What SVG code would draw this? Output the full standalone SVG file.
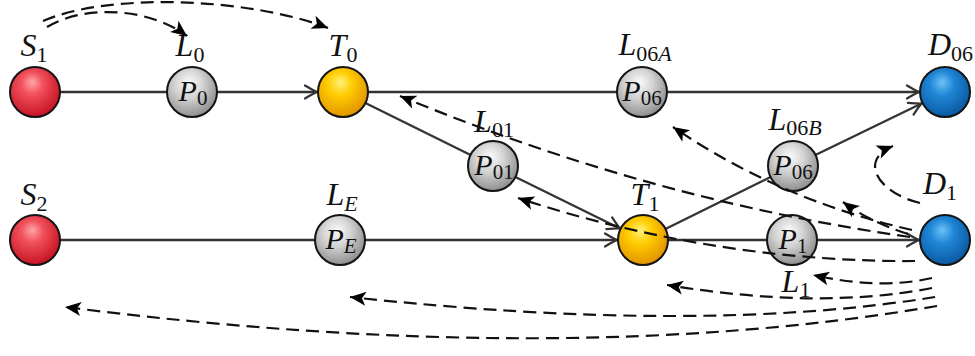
<svg xmlns="http://www.w3.org/2000/svg" width="975" height="356" viewBox="0 0 975 356">
<style>
.ball{stroke:#141414;stroke-width:2}
.solid{fill:none;stroke:#333;stroke-width:2.3}
.dash{fill:none;stroke:#111;stroke-width:2.2;stroke-dasharray:13 7}
text{font-family:"Liberation Serif","DejaVu Serif",serif;fill:#111}
.it{font-style:italic;font-size:32px}
.sub{font-size:22px}
.in{font-style:italic;font-size:30px}
.isub{font-size:21px}
</style>
<defs>
<radialGradient id="gRed" cx="0.42" cy="0.38" r="0.62" fx="0.45" fy="0.3">
<stop offset="0" stop-color="#ffa6ab"/><stop offset="0.35" stop-color="#f2525d"/><stop offset="1" stop-color="#c81425"/>
</radialGradient>
<radialGradient id="gGray" cx="0.42" cy="0.38" r="0.62" fx="0.45" fy="0.3">
<stop offset="0" stop-color="#fafafa"/><stop offset="0.45" stop-color="#d4d4d4"/><stop offset="1" stop-color="#909090"/>
</radialGradient>
<radialGradient id="gYel" cx="0.42" cy="0.38" r="0.62" fx="0.45" fy="0.3">
<stop offset="0" stop-color="#fff27a"/><stop offset="0.4" stop-color="#ffcc00"/><stop offset="1" stop-color="#e29400"/>
</radialGradient>
<radialGradient id="gBlue" cx="0.42" cy="0.38" r="0.62" fx="0.45" fy="0.3">
<stop offset="0" stop-color="#6cc2f6"/><stop offset="0.4" stop-color="#1f86d6"/><stop offset="1" stop-color="#0b5aa2"/>
</radialGradient>
<marker id="aOpen" viewBox="-14 -8 16 16" refX="0" refY="0" markerWidth="16" markerHeight="16" markerUnits="userSpaceOnUse" orient="auto">
<path d="M -12 -6.5 Q -4 -1.8 0 0 Q -4 1.8 -12 6.5" fill="none" stroke="#333" stroke-width="2.2" stroke-linecap="round"/>
</marker>
<marker id="aFill" viewBox="-18 -9 20 18" refX="0" refY="0" markerWidth="20" markerHeight="18" markerUnits="userSpaceOnUse" orient="auto">
<path d="M 0 0 L -16 -7 L -12 0 L -16 7 Z" fill="#000"/>
</marker>
</defs>

<g id="connectors">
<g id="solid-links">
<path class="solid" d="M 60 92 L 167 92"/>
<path class="solid" d="M 217 92 L 317 92" marker-end="url(#aOpen)"/>
<path class="solid" d="M 368 92 L 617 92"/>
<path class="solid" d="M 667 92 L 919 92" marker-end="url(#aOpen)"/>
<path class="solid" d="M 365.4 103 L 470.6 155"/>
<path class="solid" d="M 515.4 177 L 620 228.5" marker-end="url(#aOpen)"/>
<path class="solid" d="M 665.4 229 L 770.6 177"/>
<path class="solid" d="M 815.4 155 L 921.5 103.5" marker-end="url(#aOpen)"/>
<path class="solid" d="M 60 240 L 315 240"/>
<path class="solid" d="M 365 240 L 617 240" marker-end="url(#aOpen)"/>
<path class="solid" d="M 668 240 L 767 240"/>
<path class="solid" d="M 817 240 L 919 240" marker-end="url(#aOpen)"/>
</g>
</g>

<g id="S1"><circle class="ball" cx="35" cy="92" r="25" fill="url(#gRed)"/>
<text x="34" y="56" text-anchor="middle"><tspan class="it">S</tspan><tspan class="sub" dy="6">1</tspan></text></g>
<g id="L0"><circle class="ball" cx="192" cy="92" r="25" fill="url(#gGray)"/>
<text x="190" y="56" text-anchor="middle"><tspan class="it">L</tspan><tspan class="sub" dy="6">0</tspan></text>
<text x="193" y="101" text-anchor="middle"><tspan class="in">P</tspan><tspan class="isub" dy="4">0</tspan></text></g>
<g id="T0"><circle class="ball" cx="343" cy="92" r="25" fill="url(#gYel)"/>
<text x="343" y="56" text-anchor="middle"><tspan class="it">T</tspan><tspan class="sub" dy="6">0</tspan></text></g>
<g id="L06A"><circle class="ball" cx="642" cy="92" r="25" fill="url(#gGray)"/>
<text x="645" y="55" text-anchor="middle"><tspan class="it">L</tspan><tspan class="sub" dy="6">06</tspan><tspan class="sub" font-style="italic">A</tspan></text>
<text x="642" y="101" text-anchor="middle"><tspan class="in">P</tspan><tspan class="isub" dy="4">06</tspan></text></g>
<g id="D06"><circle class="ball" cx="945" cy="92" r="25" fill="url(#gBlue)"/>
<text x="928" y="55"><tspan class="it">D</tspan><tspan class="sub" dy="6">06</tspan></text></g>
<g id="L01"><circle class="ball" cx="493" cy="166" r="25" fill="url(#gGray)"/>
<text x="494" y="132" text-anchor="middle"><tspan class="it">L</tspan><tspan class="sub" dy="5">01</tspan></text>
<text x="494" y="175" text-anchor="middle"><tspan class="in">P</tspan><tspan class="isub" dy="4">01</tspan></text></g>
<g id="L06B"><circle class="ball" cx="793" cy="166" r="25" fill="url(#gGray)"/>
<text x="795" y="130" text-anchor="middle"><tspan class="it">L</tspan><tspan class="sub" dy="5">06</tspan><tspan class="sub" font-style="italic">B</tspan></text>
<text x="793" y="175" text-anchor="middle"><tspan class="in">P</tspan><tspan class="isub" dy="4">06</tspan></text></g>
<g id="S2"><circle class="ball" cx="35" cy="240" r="25" fill="url(#gRed)"/>
<text x="34" y="205" text-anchor="middle"><tspan class="it">S</tspan><tspan class="sub" dy="6">2</tspan></text></g>
<g id="LE"><circle class="ball" cx="340" cy="240" r="25" fill="url(#gGray)"/>
<text x="342" y="205" text-anchor="middle"><tspan class="it">L</tspan><tspan class="sub" dy="6" font-style="italic">E</tspan></text>
<text x="341" y="249" text-anchor="middle"><tspan class="in">P</tspan><tspan class="isub" dy="4" font-style="italic">E</tspan></text></g>
<g id="T1"><circle class="ball" cx="643" cy="240" r="25" fill="url(#gYel)"/>
<text x="645" y="205" text-anchor="middle"><tspan class="it">T</tspan><tspan class="sub" dy="6">1</tspan></text></g>
<g id="L1"><circle class="ball" cx="792" cy="240" r="25" fill="url(#gGray)"/>
<text x="793" y="249" text-anchor="middle"><tspan class="in">P</tspan><tspan class="isub" dy="4">1</tspan></text>
<text x="796" y="292" text-anchor="middle"><tspan class="it">L</tspan><tspan class="sub" dy="5">1</tspan></text></g>
<g id="D1"><circle class="ball" cx="945" cy="240" r="25" fill="url(#gBlue)"/>
<text x="940" y="194" text-anchor="middle"><tspan class="it">D</tspan><tspan class="sub" dy="6">1</tspan></text></g>

<g id="dashed-links">
<path class="dash" d="M 47 27 C 85 4, 150 8, 187 36" marker-end="url(#aFill)"/>
<path class="dash" d="M 43 21 C 110 -8, 250 -2, 328 28" marker-end="url(#aFill)"/>
<path class="dash" d="M 910 237 Q 650 200, 400 96" marker-end="url(#aFill)"/>
<path class="dash" d="M 912 230 Q 780 200, 673 127" marker-end="url(#aFill)"/>
<path class="dash" d="M 908 234 Q 870 222, 843 202" marker-end="url(#aFill)"/>
<path class="dash" d="M 920 203 C 878 193, 858 160, 893 146" marker-end="url(#aFill)"/>
<path class="dash" d="M 915 261 C 800 262, 660 245, 518 198" marker-end="url(#aFill)"/>
<path class="dash" d="M 932 278 Q 880 290, 813 275" marker-end="url(#aFill)"/>
<path class="dash" d="M 932 288 Q 820 310, 667 285" marker-end="url(#aFill)"/>
<path class="dash" d="M 935 297 Q 700 335, 350 297" marker-end="url(#aFill)"/>
<path class="dash" d="M 937 306 Q 560 370, 65 307" marker-end="url(#aFill)"/>
</g>
</svg>
